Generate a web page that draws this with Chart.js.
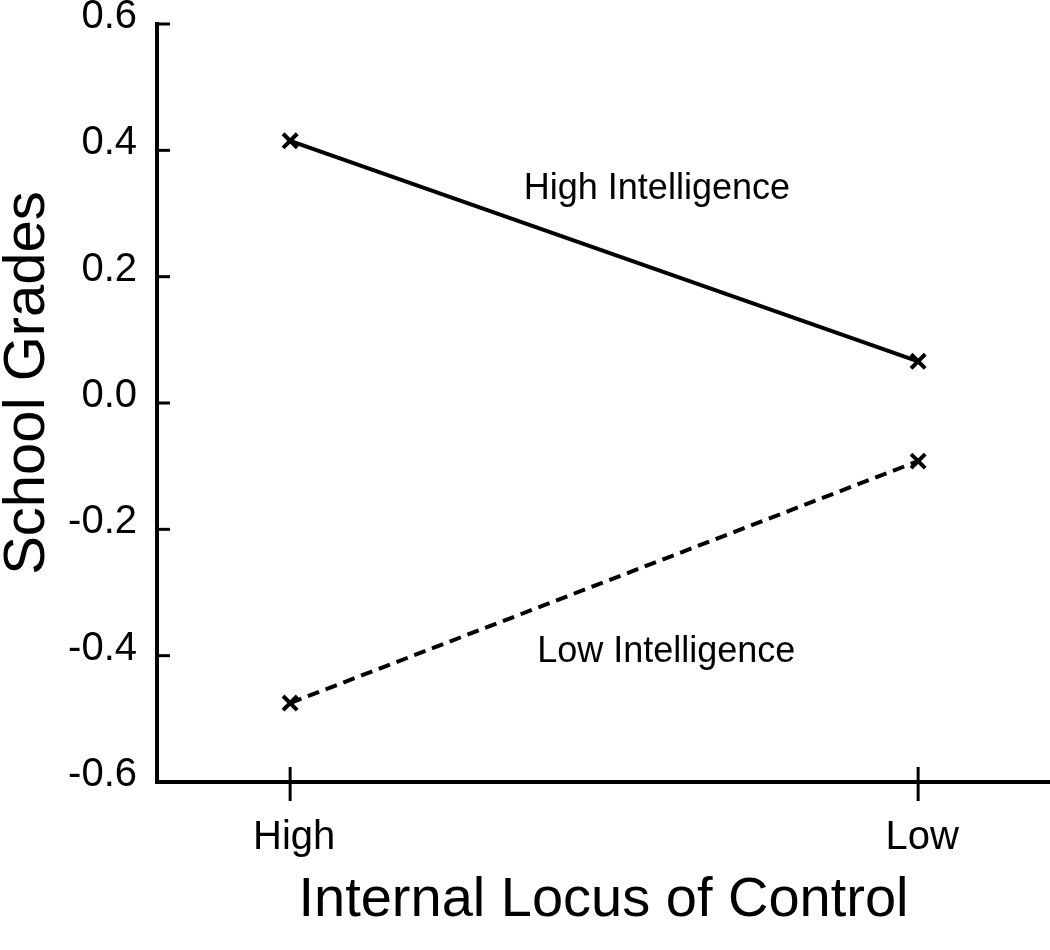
<!DOCTYPE html>
<html><head><meta charset="utf-8">
<script src="https://cdn.jsdelivr.net/npm/chart.js@4.4.1/dist/chart.umd.min.js"></script>
<style>html,body{margin:0;padding:0;background:#fff;} #wrap{width:1050px;height:950px;}</style>
</head><body><div id="wrap"><canvas id="c" width="1050" height="950"></canvas></div>
<script>
const categories = ['High', 'Low'];
const highIntelligence = [0.415, 0.066];
const lowIntelligence = [-0.475, -0.092];
const seriesNames = ['High Intelligence', 'Low Intelligence'];
const yTickValues = [-0.6, -0.4, -0.2, 0.0, 0.2, 0.4, 0.6];
const xTitle = 'Internal Locus of Control';
const yTitle = 'School Grades';

const FONT = "'Liberation Sans', Arial, Helvetica, sans-serif";
const toPoints = arr => arr.map((v, i) => ({ x: i, y: v }));

const axisMarks = {
  id: 'axisMarks',
  afterDraw(chart) {
    const { ctx, scales: { x, y } } = chart;
    ctx.save();
    ctx.strokeStyle = '#000';
    ctx.lineWidth = 3;
    yTickValues.forEach(v => {
      const py = y.getPixelForValue(v);
      ctx.beginPath(); ctx.moveTo(x.left, py); ctx.lineTo(x.left + 13, py); ctx.stroke();
    });
    categories.forEach((c, i) => {
      const px = x.getPixelForValue(i);
      ctx.beginPath(); ctx.moveTo(px, y.bottom - 15); ctx.lineTo(px, y.bottom + 19); ctx.stroke();
    });
    // y-axis title
    ctx.fillStyle = '#000';
    ctx.font = `58px ${FONT}`;
    ctx.textAlign = 'center';
    ctx.textBaseline = 'middle';
    ctx.translate(y.left + 28, (y.top + y.bottom) / 2 - 20);
    ctx.rotate(-Math.PI / 2);
    ctx.fillText(yTitle, 0, 0);
    ctx.restore();
  }
};

const seriesLabels = {
  id: 'seriesLabels',
  afterDatasetsDraw(chart, args, opts) {
    const { ctx, scales: { x, y } } = chart;
    ctx.save();
    ctx.fillStyle = '#000';
    ctx.font = `36px ${FONT}`;
    ctx.textAlign = 'center';
    ctx.textBaseline = 'middle';
    chart.data.datasets.forEach((ds, i) => {
      const a = opts.anchors[i];
      ctx.fillText(ds.label, x.getPixelForValue(a.x), y.getPixelForValue(a.y));
    });
    ctx.restore();
  }
};

new Chart(document.getElementById('c'), {
  type: 'scatter',
  data: {
    datasets: [
      {
        label: seriesNames[0],
        data: toPoints(highIntelligence),
        showLine: true,
        borderColor: '#000',
        borderWidth: 4,
        pointStyle: 'crossRot',
        pointRadius: 10,
        pointBorderWidth: 4,
        pointBorderColor: '#000',
        pointBackgroundColor: '#000'
      },
      {
        label: seriesNames[1],
        data: toPoints(lowIntelligence),
        showLine: true,
        borderColor: '#000',
        borderWidth: 4,
        borderDash: [12, 7],
        pointStyle: 'crossRot',
        pointRadius: 10,
        pointBorderWidth: 4,
        pointBorderColor: '#000',
        pointBackgroundColor: '#000'
      }
    ]
  },
  options: {
    responsive: false,
    devicePixelRatio: 1,
    animation: false,
    layout: { autoPadding: false, padding: { top: 24, left: 0, right: 0, bottom: 0 } },
    plugins: {
      legend: { display: false },
      tooltip: { enabled: false },
      seriesLabels: { anchors: [{ x: 0.584, y: 0.338 }, { x: 0.599, y: -0.394 }] }
    },
    scales: {
      x: {
        type: 'linear',
        min: -0.212,
        max: 1.21,
        afterBuildTicks: s => { s.ticks = categories.map((c, i) => ({ value: i })); },
        afterFit: s => { s.height = 168; s.paddingLeft = 0; s.paddingRight = 0; },
        grid: { display: false },
        border: { display: true, color: '#000', width: 4 },
        ticks: {
          callback: v => categories[v],
          color: '#000',
          font: { family: FONT, size: 40 },
          padding: 24,
          labelOffset: 4,
          maxRotation: 0
        },
        title: {
          display: true,
          text: xTitle,
          color: '#000',
          font: { family: FONT, size: 56, lineHeight: 1.2 },
          padding: { top: 0, bottom: 16 }
        }
      },
      y: {
        type: 'linear',
        min: -0.6,
        max: 0.6,
        afterBuildTicks: s => { s.ticks = yTickValues.map(v => ({ value: v })); },
        afterFit: s => { s.width = 157; s.paddingTop = 0; s.paddingBottom = 0; },
        grid: { display: false },
        border: { display: true, color: '#000', width: 4 },
        ticks: {
          callback: v => v.toFixed(1),
          color: '#000',
          font: { family: FONT, size: 40 },
          padding: 12,
          labelOffset: -7
        },
        title: { display: false }
      }
    }
  },
  plugins: [axisMarks, seriesLabels]
});
</script>
</body></html>
